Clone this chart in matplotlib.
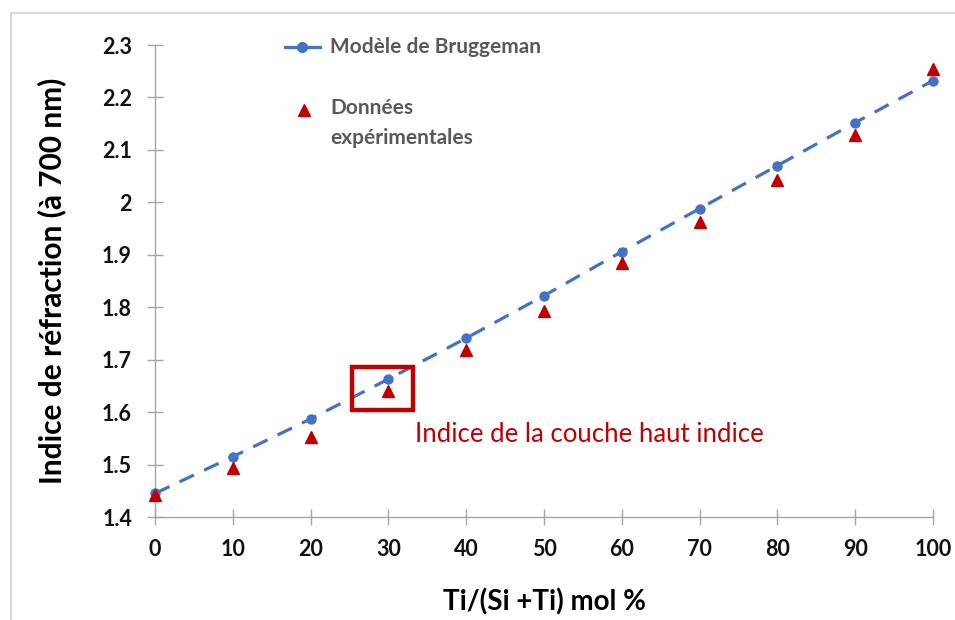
import matplotlib.pyplot as plt
from matplotlib.patches import Rectangle
from matplotlib.lines import Line2D

plt.rcParams['font.family'] = ['Lato', 'DejaVu Sans']

# Ti fraction (mol %) and refractive index at 700 nm
ti_fraction = [0, 10, 20, 30, 40, 50, 60, 70, 80, 90, 100]
bruggeman = [1.445, 1.515, 1.587, 1.663, 1.741, 1.822, 1.906, 1.988, 2.070, 2.152, 2.232]
measured = [1.442, 1.494, 1.553, 1.640, 1.719, 1.793, 1.885, 1.962, 2.043, 2.129, 2.255]

x_ticks = [0, 10, 20, 30, 40, 50, 60, 70, 80, 90, 100]
y_ticks = [1.4, 1.5, 1.6, 1.7, 1.8, 1.9, 2.0, 2.1, 2.2, 2.3]
y_tick_labels = ['1.4', '1.5', '1.6', '1.7', '1.8', '1.9', '2', '2.1', '2.2', '2.3']

# highlighted sample (30 mol %)
box_x = (25.3, 33.2)
box_y = (1.604, 1.686)

blue = '#4472C4'
red = '#C00000'
axis_grey = '#A6A6A6'
legend_grey = '#595959'

fig = plt.figure(figsize=(9.55, 6.2), dpi=100)
fig.patch.set_facecolor('white')

# page frame around the chart
fig.patches.append(Rectangle((11 / 955, -0.05), 1.1, 1 - 13 / 620 + 0.05,
                             transform=fig.transFigure, facecolor='none',
                             edgecolor='#D0D0D0', linewidth=1.2, zorder=0))

ax = fig.add_axes([155 / 955, 1 - 517 / 620, (933 - 155) / 955, (517 - 45) / 620])
ax.set_xlim(0, 100)
ax.set_ylim(1.4, 2.3)

ax.plot(ti_fraction, bruggeman, linestyle=(0, (5, 3.5)), color=blue, linewidth=2.3,
        marker='o', markersize=6.5, markerfacecolor=blue, markeredgecolor=blue,
        zorder=3, clip_on=False)
ax.plot(ti_fraction, measured, linestyle='none', marker='^', markersize=9,
        color=red, markeredgecolor=red, zorder=4, clip_on=False)

ax.add_patch(Rectangle((box_x[0], box_y[0]), box_x[1] - box_x[0], box_y[1] - box_y[0],
                       facecolor='none', edgecolor=red, linewidth=3.2, zorder=5))
ax.text(33.4, 1.5565, 'Indice de la couche haut indice', color=red, fontsize=18.5,
        va='center', ha='left')

for s in ['top', 'right']:
    ax.spines[s].set_visible(False)
for s in ['left', 'bottom']:
    ax.spines[s].set_color(axis_grey)
    ax.spines[s].set_linewidth(1.0)

ax.set_xticks(x_ticks)
ax.set_yticks(y_ticks)
ax.set_yticklabels(y_tick_labels)
ax.tick_params(axis='both', direction='inout', length=12, width=1.0, color=axis_grey,
               labelsize=15.5, labelcolor='#111111')
ax.tick_params(axis='y', pad=10.5)
ax.tick_params(axis='x', pad=10)
for lab in ax.get_xticklabels() + ax.get_yticklabels():
    lab.set_fontweight('bold')

ax.set_xlabel('Ti/(Si +Ti) mol %', fontsize=20, fontweight='bold', labelpad=20)
ax.set_ylabel('Indice de réfraction (à 700 nm)', fontsize=21.5, fontweight='bold', labelpad=26)

# legend, drawn in axes coordinates
t = ax.transAxes
ax.add_line(Line2D([0.167, 0.212], [0.996, 0.996], transform=t, linestyle='-',
                   color=blue, linewidth=2.3, clip_on=False))
ax.add_line(Line2D([0.189], [0.996], transform=t, marker='o', markersize=7,
                   color=blue, linestyle='none', clip_on=False))
ax.add_line(Line2D([0.1915], [0.862], transform=t, marker='^', markersize=9,
                   color=red, linestyle='none', clip_on=False))
leg_font = dict(fontsize=15, fontweight='bold', color=legend_grey, transform=t,
                ha='left', va='center')
ax.text(0.225, 0.996, 'Modèle de Bruggeman', **leg_font)
ax.text(0.225, 0.867, 'Données', **leg_font)
ax.text(0.225, 0.803, 'expérimentales', **leg_font)

fig.savefig('out.png', dpi=100)
